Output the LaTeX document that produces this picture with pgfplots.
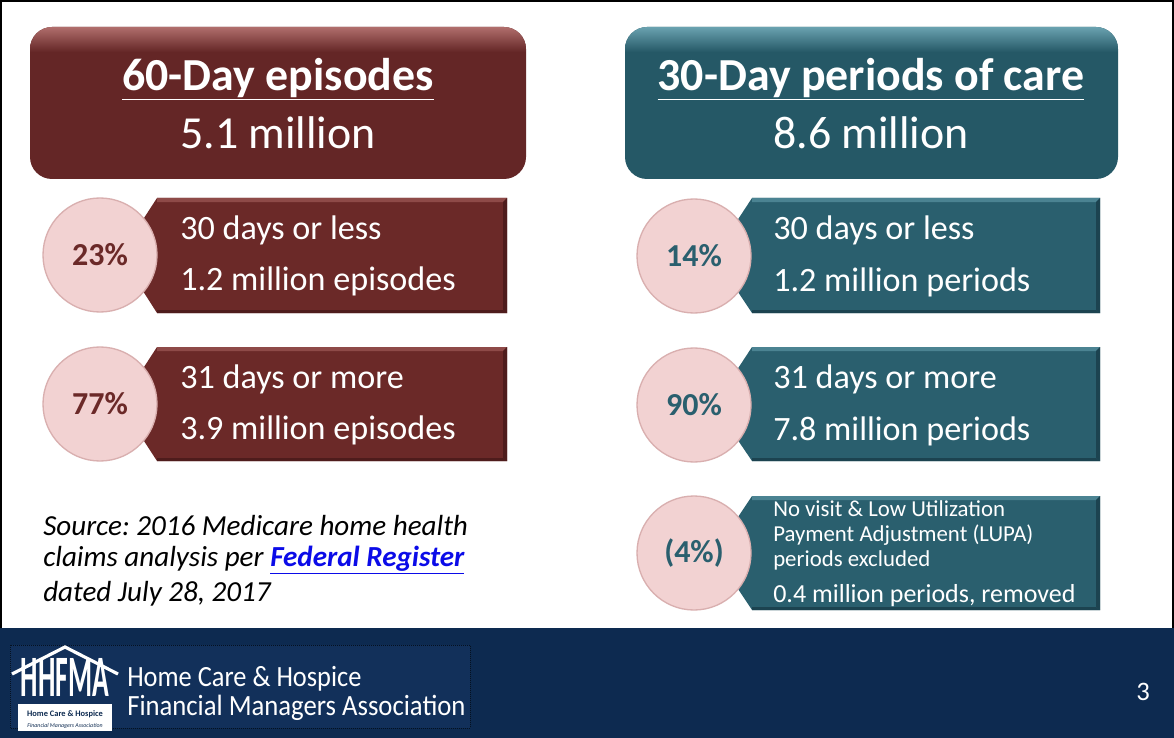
\documentclass[border=0pt]{standalone}
\usepackage{pgfplots}
\pgfplotsset{compat=1.18}
\usepackage{fontspec}
\setmainfont{Carlito}
\definecolor{maroon}{HTML}{6B2928}
\definecolor{maroonhd}{HTML}{642626}
\definecolor{maroonlt}{HTML}{B06E6C}
\definecolor{maroonbv}{HTML}{8E4A48}
\definecolor{maroondk}{HTML}{4E1C1C}
\definecolor{teal}{HTML}{2A5F6E}
\definecolor{tealhd}{HTML}{255866}
\definecolor{teallt}{HTML}{6AA2B0}
\definecolor{tealbv}{HTML}{4B8392}
\definecolor{tealdk}{HTML}{1C4350}
\definecolor{pinkfill}{HTML}{F2D2D2}
\definecolor{pinkrim}{HTML}{D9AFAF}
\definecolor{navy}{HTML}{0D2A50}
\definecolor{navylogo}{HTML}{12305A}
\definecolor{linkblue}{HTML}{0B0BE8}
\newcommand{\fs}[1]{\fontsize{#1}{#1}\selectfont}
% #1 main, #2 bevel, #3 dark, #4 xl, #5 xr, #6 ytop, #7 ybot, #8 xpoint, #9 ymid
\newcommand{\arrowbox}[9]{%
  \fill[#1] (#4,#6) -- (#5,#6) -- (#5,#7) -- (#4,#7) -- (#8,#9) -- cycle;
  \fill[#2] (#4,#6) -- (#5,#6) -- (#5-4,#6+4) -- (#4,#6+4) -- cycle;
  \fill[#3] (#5,#6) -- (#5,#7) -- (#5-4,#7-3) -- (#5-4,#6+4) -- cycle;
  \fill[#3] (#4,#7) -- (#5,#7) -- (#5-4,#7-3) -- (#4,#7-3) -- cycle;
}
\frenchspacing
\begin{document}
\begin{tikzpicture}
\begin{axis}[
  x=0.75pt, y=0.75pt, y dir=reverse,
  xmin=0, xmax=1174, ymin=0, ymax=738,
  hide axis, clip=false,
]
% background and frame
\fill[white] (0,0) rectangle (1174,738);
\draw[black, line width=1.5pt] (1,1) rectangle (1173,737);

% ---------- header boxes ----------
\fill[maroonhd, rounded corners=16.5pt] (30,27) rectangle (526,179);
\begin{scope}
  \clip[rounded corners=16.5pt] (30,27) rectangle (526,179);
  \shade[top color=maroonlt, bottom color=maroonhd] (30,27) rectangle (526,52);
\end{scope}
\node[text=white, font=\fs{34.4}\bfseries] at (278,79) {\underline{60-Day episodes}};
\node[text=white, font=\fs{34.4}] at (278,133) {5.1 million};

\fill[tealhd, rounded corners=16.5pt] (625,27) rectangle (1118,179);
\begin{scope}
  \clip[rounded corners=16.5pt] (625,27) rectangle (1118,179);
  \shade[top color=teallt, bottom color=tealhd] (625,27) rectangle (1118,52);
\end{scope}
\node[text=white, font=\fs{34.4}\bfseries] at (871,79) {\underline{30-Day periods of care}};
\node[text=white, font=\fs{34.4}] at (871,133) {8.6 million};

% ---------- arrow boxes ----------
\arrowbox{maroon}{maroonbv}{maroondk}{157}{507}{198}{313}{120}{255}
\arrowbox{maroon}{maroonbv}{maroondk}{157}{507}{347}{461}{120}{404}
\arrowbox{teal}{tealbv}{tealdk}{752}{1100}{198}{313}{714}{256}
\arrowbox{teal}{tealbv}{tealdk}{752}{1100}{347}{461}{714}{405}
\arrowbox{teal}{tealbv}{tealdk}{752}{1100}{496}{610}{714}{553}

% ---------- circles with percentages ----------
\addplot[only marks, mark=*, mark size=42.75pt,
  mark options={fill=pinkfill, draw=pinkrim, line width=1pt},
  point meta=explicit symbolic,
  nodes near coords={\pgfplotspointmeta\%},
  every node near coord/.append style={anchor=center, text=maroon, font=\fs{24}\bfseries},
] table[meta=label] {
x y label
100 255 23
100 404 77
};
\addplot[only marks, mark=*, mark size=42.75pt,
  mark options={fill=pinkfill, draw=pinkrim, line width=1pt},
  point meta=explicit symbolic,
  nodes near coords={\pgfplotspointmeta\%},
  every node near coord/.append style={anchor=center, text=teal, font=\fs{24}\bfseries},
] table[meta=label] {
x y label
694 256 14
694 405 90
};
\addplot[only marks, mark=*, mark size=42.75pt,
  mark options={fill=pinkfill, draw=pinkrim, line width=1pt},
  point meta=explicit symbolic,
  nodes near coords={(\pgfplotspointmeta\%)},
  every node near coord/.append style={anchor=center, text=teal, font=\fs{24}\bfseries},
] table[meta=label] {
x y label
694 553 4
};

% ---------- box texts ----------
\begin{scope}[every node/.style={anchor=west, text=white, font=\fs{25.6}, inner sep=0pt}]
\node at (180,230) {30 days or less};
\node at (180,281) {1.2 million episodes};
\node at (180,379) {31 days or more};
\node at (180,430) {3.9 million episodes};
\node at (773,230) {30 days or less};
\node at (773,282) {1.2 million periods};
\node at (773,379) {31 days or more};
\node at (773,431) {7.8 million periods};
\node[font=\fs{17.1}] at (773,509) {No visit \& Low Utilization};
\node[font=\fs{17.1}] at (773,535) {Payment Adjustment (LUPA)};
\node[font=\fs{17.1}] at (773,560) {periods excluded};
\node[font=\fs{19.5}] at (773,596) {0.4 million periods, removed};
\end{scope}

% ---------- source ----------
\begin{scope}[every node/.style={anchor=west, text=black, font=\fs{21.8}\itshape, inner sep=0pt}]
\node at (43,526) {Source: 2016 Medicare home health};
\node at (43,560) {claims analysis per \textcolor{linkblue}{\bfseries\underline{Federal Register}}};
\node at (43,594) {dated July 28, 2017};
\end{scope}

% ---------- footer ----------
\fill[navy] (0,628) rectangle (1174,738);
\fill[navylogo] (10,645) rectangle (470,728);
\draw[black!60!navy, densely dotted, line width=0.5pt] (10,645) rectangle (470,728);
\draw[white, line width=2.4pt, line join=miter] (12,674) -- (65,647) -- (118,674);
\node[text=white, font=\fs{44}\bfseries, inner sep=0pt] at (65,677) {\scalebox{0.47}[1]{HHFMA}};
\fill[white] (18,704) rectangle (112,731);
\node[text=navy, font=\fs{6.3}\bfseries, inner sep=0pt] at (65,714) {Home Care \& Hospice};
\node[text=navy, font=\fs{4.4}\itshape, inner sep=0pt] at (65,726) {Financial Managers Association};
\node[anchor=west, text=white, font=\fs{22}, inner sep=0pt] at (127,679) {\scalebox{0.9}[1]{Home Care \& Hospice}};
\node[anchor=west, text=white, font=\fs{22}, inner sep=0pt] at (127,708) {\scalebox{0.91}[1]{Financial Managers Association}};
\node[text=white, font=\fs{20}] at (1143,692) {3};
\end{axis}
\end{tikzpicture}
\end{document}
